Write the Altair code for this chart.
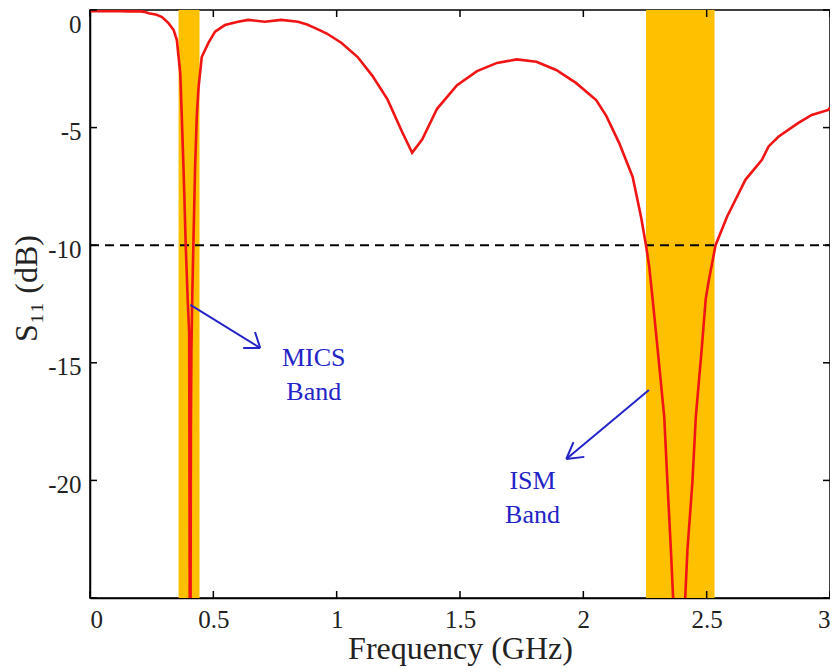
import altair as alt
import pandas as pd

# S11 curve (frequency in GHz, S11 in dB)
freq = [0.00, 0.05, 0.10, 0.15, 0.20, 0.22, 0.238, 0.27, 0.292, 0.319, 0.339, 0.352,
        0.366, 0.372, 0.379, 0.383, 0.388, 0.396, 0.402, 0.403, 0.404, 0.406,
        0.408, 0.409, 0.411, 0.415, 0.419, 0.426, 0.433, 0.44, 0.453, 0.48, 0.507,
        0.547, 0.60, 0.641, 0.708, 0.775, 0.843, 0.88, 0.92, 0.96, 1.02, 1.085,
        1.145, 1.206, 1.266, 1.306, 1.347, 1.407, 1.488, 1.569, 1.65, 1.73, 1.81,
        1.89, 1.97, 2.052, 2.093, 2.145, 2.20, 2.234, 2.254, 2.267, 2.281, 2.301,
        2.328, 2.341, 2.355, 2.364, 2.39, 2.413, 2.422, 2.442, 2.456, 2.48, 2.496,
        2.507, 2.536, 2.583, 2.63, 2.657, 2.724, 2.751, 2.792, 2.872, 2.926, 2.993, 3.0]
s11 = [-0.05, -0.05, -0.04, -0.06, -0.05, -0.08, -0.14, -0.2, -0.3, -0.57, -0.85, -1.27,
       -2.7, -4.5, -6.7, -8.1, -10.0, -12.3, -13.7, -18.0, -24.0, -40.0,
       -24.0, -18.0, -14.5, -12.0, -10.0, -6.7, -4.5, -3.3, -2.0, -1.4, -0.92,
       -0.64, -0.5, -0.42, -0.5, -0.42, -0.5, -0.62, -0.8, -1.0, -1.4, -2.0,
       -2.8, -3.8, -5.2, -6.07, -5.5, -4.2, -3.2, -2.6, -2.25, -2.1, -2.2,
       -2.55, -3.1, -3.83, -4.5, -5.65, -7.1, -8.8, -10.0, -10.9, -12.3, -14.4,
       -17.3, -20.1, -22.96, -25.0, -38.0, -25.0, -22.96, -20.1, -17.3, -14.4, -12.3,
       -11.6, -10.0, -8.78, -7.79, -7.22, -6.37, -5.8, -5.38, -4.8, -4.46, -4.25, -4.15]

# Highlighted bands (GHz)
band_names = ["MICS", "ISM"]
band_start = [0.359, 2.254]
band_end = [0.444, 2.532]

# Reference level
ref_level = [-10]

# Axis ticks
x_ticks = [0, 0.5, 1, 1.5, 2, 2.5, 3]
y_ticks = [-25, -20, -15, -10, -5, 0]
y_labels = [-20, -15, -10, -5, 0]

# Annotation arrows (segments in data coordinates: shaft + two barbs)
arrow_x1 = [0.407, 0.690, 0.690, 2.266, 1.931, 1.931]
arrow_y1 = [-12.54, -14.37, -14.37, -16.16, -19.09, -19.09]
arrow_x2 = [0.690, 0.621, 0.669, 1.931, 2.004, 1.960]
arrow_y2 = [-14.37, -14.37, -13.69, -19.09, -19.00, -18.37]

# Annotation texts
note_text = ["MICS", "Band", "ISM", "Band"]
note_x = [0.907, 0.907, 1.794, 1.794]
note_y = [-14.80, -16.24, -20.03, -21.47]

W, H = 740, 588
xs = alt.Scale(domain=[0, 3], nice=False, zero=False)
ys = alt.Scale(domain=[-25, 0], nice=False, zero=False)
FONT = "Liberation Serif"
BLUE = "#2323c8"

x_axis = alt.Axis(
    title="Frequency (GHz)", values=x_ticks, labelExpr="'' + datum.value",
    labelFont=FONT, labelFontSize=25,
    titleX=W / 2, titleY=60, titleBaseline="alphabetic", titleAnchor="middle",
    labelPadding=9,
)
y_axis = alt.Axis(
    title="S₁₁ (dB)", values=y_labels, labelExpr="'' + datum.value",
    labelFont=FONT, labelFontSize=25,
    titleX=-64, titleY=278, titleAngle=-90, titleBaseline="middle", titleAlign="center",
    labelPadding=9, labelFlush=True, labelFlushOffset=2, labelOffset=4,
)

curve_df = pd.DataFrame({"f": freq, "s": s11})
band_df = pd.DataFrame({"name": band_names, "f": band_start, "b": band_end})
ref_df = pd.DataFrame({"s": ref_level})
xt_df = pd.DataFrame({"f": x_ticks})
yt_df = pd.DataFrame({"s": y_ticks})
arrow_df = pd.DataFrame({"f": arrow_x1, "s": arrow_y1, "x2": arrow_x2, "y2": arrow_y2})
note_df = pd.DataFrame({"t": note_text, "f": note_x, "s": note_y})

X = alt.X("f:Q", scale=xs, axis=x_axis)
Y = alt.Y("s:Q", scale=ys, axis=y_axis)

bands = alt.Chart(band_df).mark_rect(color="#FFC000").encode(
    x=X, x2="b:Q", y=alt.value(0), y2=alt.value(H),
)

ref = alt.Chart(ref_df).mark_rule(color="black", strokeWidth=2, strokeDash=[9, 6]).encode(
    y=Y, x=alt.value(0), x2=alt.value(W),
)

curve = alt.Chart(curve_df).mark_line(color="#f01414", strokeWidth=2.6, clip=True).encode(
    x=X, y=Y,
)

arrows = alt.Chart(arrow_df).mark_rule(color=BLUE, strokeWidth=2).encode(
    x=X, y=Y, x2="x2:Q", y2="y2:Q",
)

notes = alt.Chart(note_df).mark_text(color=BLUE, font=FONT, fontSize=26, baseline="middle", align="center").encode(
    x=X, y=Y, text="t:N",
)

tick_style = dict(color="black", strokeWidth=1.5)
xt_bottom = alt.Chart(xt_df).mark_rule(**tick_style).encode(
    x=X, y=alt.value(H), y2=alt.value(H - 7))
xt_top = alt.Chart(xt_df).mark_rule(**tick_style).encode(
    x=X, y=alt.value(0), y2=alt.value(7))
yt_left = alt.Chart(yt_df).mark_rule(**tick_style).encode(
    y=Y, x=alt.value(0), x2=alt.value(7))
yt_right = alt.Chart(yt_df).mark_rule(**tick_style).encode(
    y=Y, x=alt.value(W), x2=alt.value(W - 7))

chart = alt.layer(
    bands, ref, curve, arrows, notes, xt_bottom, xt_top, yt_left, yt_right
).properties(
    width=W, height=H,
    padding={"left": 82, "top": 2, "right": 0, "bottom": 72},
    autosize=alt.AutoSizeParams(type="none"),
    background="white",
).configure_view(
    stroke="black", strokeWidth=1.5
).configure_axis(
    domainColor="black", domainWidth=1.5, ticks=False, grid=False,
    labelFont=FONT, labelFontSize=25, labelColor="#222222",
    titleFont=FONT, titleFontSize=32, titleFontWeight="normal", titleColor="#222222",
)

chart.save("out.html", embed_options={"renderer": "svg", "actions": False})
